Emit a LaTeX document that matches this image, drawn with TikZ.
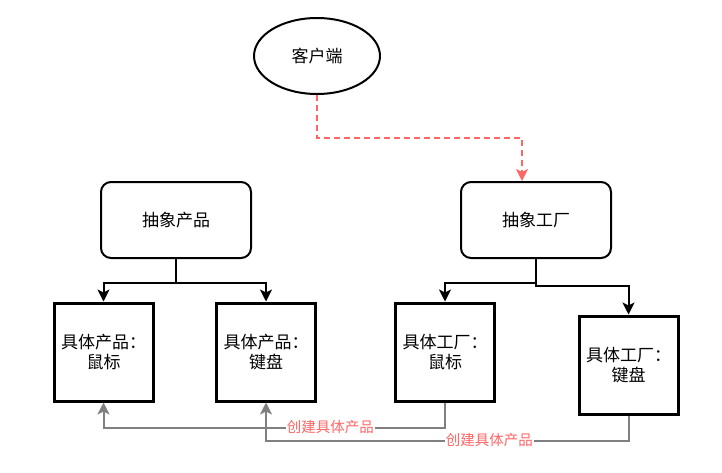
\documentclass[tikz,border=0pt]{standalone}
\usepackage{fontspec}
\setmainfont{Noto Sans CJK SC}
\usetikzlibrary{arrows.meta,shapes.geometric}
\definecolor{lred}{HTML}{FF6666}
\definecolor{lgray}{HTML}{808080}
\tikzset{
  txt/.style={font=\fontsize{17}{20}\selectfont, align=center, inner sep=0pt},
  absbox/.style={txt, draw, line width=2pt, rounded corners=10pt, minimum width=150pt, minimum height=76pt},
  conbox/.style={txt, draw, line width=3pt, minimum width=99pt, minimum height=98pt},
  tree/.style={draw=black, line width=2pt, -{Stealth[length=12pt,width=12pt,inset=3pt]}},
  create/.style={draw=lgray, line width=2pt, -{Stealth[length=12pt,width=12pt,inset=3pt]}},
  calls/.style={draw=lred, line width=2pt, dash pattern=on 6pt off 4pt, -{Stealth[length=12pt,width=12pt,inset=3pt]}},
  lbl/.style={font=\fontsize{14.5}{16}\selectfont, text=lred, fill=white, inner sep=1pt}
}
\begin{document}
\begin{tikzpicture}[x=1pt,y=-1pt]
\useasboundingbox[fill=white] (0,0) rectangle (722,472);
\node[txt, ellipse, draw, line width=2pt, minimum width=126pt, minimum height=76pt] (client) at (317,56) {客户端};
\node[absbox] (absprod) at (176,220) {抽象产品};
\node[absbox] (absfac) at (536,220) {抽象工厂};
\node[conbox] (p1) at (103.5,352) {具体产品：\\鼠标};
\node[conbox] (p2) at (266,352) {具体产品：\\键盘};
\node[conbox] (f1) at (445,352) {具体工厂：\\鼠标};
\node[conbox] (f2) at (628.5,365) {具体工厂：\\键盘};

\draw[calls] (client.south) -- ++(0,43) -| ([xshift=-14pt]absfac.north);

\draw[tree] (absprod.south) -- ++(0,24) -| (p1.north);
\draw[tree] (absprod.south) -- ++(0,24) -| (p2.north);
\draw[tree] (absfac.south) -- ++(0,24) -| (f1.north);
\draw[tree] (absfac.south) -- ++(0,27) -| (f2.north);

\draw[create] (f1.south) -- ++(0,25) -| node[pos=0.168, lbl] {创建具体产品} (p1.south);
\draw[create] (f2.south) -- ++(0,25) -| node[pos=0.192, lbl] {创建具体产品} (p2.south);
\end{tikzpicture}
\end{document}
